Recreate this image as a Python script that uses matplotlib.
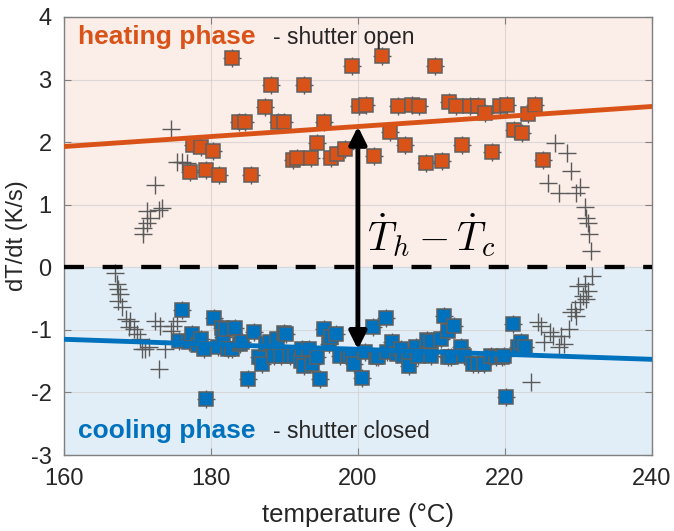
import matplotlib
matplotlib.use("Agg")
import matplotlib.pyplot as plt
import numpy as np

plt.rcParams['font.family'] = ['Liberation Sans', 'DejaVu Sans']
plt.rcParams['mathtext.fontset'] = 'cm'
plt.rcParams['lines.scale_dashes'] = False
plt.rcParams['axes.unicode_minus'] = False

# Heating phase (shutter open): temperature (°C) and heating rate (K/s)
heat_T = [182.8, 177.5, 178.6, 180.3, 177.2, 179.3, 181.1, 185.5, 183.8, 184.7,
          187.4, 188.2, 189.1, 190.0, 192.6, 191.1, 191.7, 193.6, 194.5, 195.4,
          196.3, 197.2, 198.2, 199.2, 200.2, 201.1, 202.2, 203.3, 204.4, 205.4,
          206.4, 207.3, 208.3, 209.3, 210.5, 211.4, 212.4, 213.3, 214.2, 215.2,
          216.3, 217.3, 218.3, 219.3, 220.3, 221.2, 222.3, 223.1, 224.1, 225.2]
heat_rate = [3.35, 1.96, 1.93, 1.86, 1.53, 1.55, 1.48, 1.48, 2.33, 2.32,
             2.56, 2.91, 2.32, 2.32, 2.91, 1.72, 1.75, 1.74, 1.98, 2.32,
             1.74, 1.81, 1.89, 3.22, 2.58, 2.60, 1.78, 3.37, 2.17, 2.58,
             1.95, 2.60, 2.58, 1.67, 3.22, 1.70, 2.64, 2.58, 1.95, 2.58,
             2.58, 2.46, 1.84, 2.58, 2.59, 2.19, 2.14, 2.45, 2.59, 1.71]

# Cooling phase (shutter closed)
cool_T = [175.6, 176.1, 177.0, 177.4, 178.3, 178.6, 179.0, 179.3, 180.4, 181.0,
          181.5, 181.7, 182.0, 182.3, 182.9, 183.3, 184.0, 184.2, 185.1, 185.8,
          186.5, 187.0, 187.5, 188.1, 188.6, 189.0, 189.5, 190.0, 190.2, 190.8,
          191.5, 192.2, 192.4, 192.6, 193.3, 193.8, 194.5, 194.8, 195.4, 196.1,
          196.4, 197.0, 197.6, 198.6, 199.1, 199.5, 200.5, 201.0, 202.1, 202.4,
          202.7, 203.8, 203.9, 204.7, 205.3, 205.8, 206.2, 207.0, 207.0, 207.9,
          208.2, 209.4, 209.9, 210.0, 211.3, 211.7, 212.2, 212.3, 212.7, 213.1,
          214.0, 214.5, 215.6, 216.4, 217.2, 218.1, 218.8, 219.6, 219.9, 220.2,
          221.1, 221.8, 222.2, 222.8]
cool_rate = [-1.18, -0.68, -1.20, -1.07, -1.24, -1.15, -1.31, -2.10, -0.81, -1.28,
             -0.97, -1.12, -0.99, -1.30, -1.31, -0.97, -1.22, -1.20, -1.79, -1.04,
             -1.44, -1.55, -1.22, -1.20, -1.41, -1.15, -1.41, -1.05, -1.07, -1.41,
             -1.41, -1.49, -1.31, -1.57, -1.31, -1.55, -1.44, -1.78, -0.99, -1.23,
             -1.11, -1.07, -1.41, -1.41, -1.41, -1.55, -1.77, -1.35, -0.95, -1.43,
             -1.44, -0.81, -1.35, -1.20, -1.38, -1.31, -1.41, -1.44, -1.57, -1.28,
             -1.41, -1.16, -1.18, -1.41, -1.15, -0.78, -1.02, -1.43, -1.44, -0.94,
             -1.28, -1.41, -1.55, -1.54, -1.55, -1.41, -1.43, -1.43, -1.41, -2.07,
             -0.90, -1.28, -1.20, -1.27]

# Transient samples outside the steady phases (start/end of each cycle)
trans_heat_T = [174.5, 175.4, 176.1, 176.7, 172.4, 173.3, 172.9, 171.3, 171.7, 171.3,
                170.8, 170.8, 226.8, 228.4, 229.0, 225.9, 227.4, 229.7, 230.3, 230.9,
                231.1, 231.3, 231.5, 231.7]
trans_heat_rate = [2.21, 1.68, 1.68, 1.67, 1.31, 0.95, 0.92, 0.90, 0.79, 0.71,
                   0.63, 0.53, 1.99, 1.83, 1.54, 1.35, 1.19, 1.19, 1.29, 0.97,
                   0.79, 0.71, 0.53, 0.26]
trans_cool_T = [167.0, 167.2, 167.4, 167.6, 167.3, 167.9, 168.5, 169.0, 169.5, 168.8,
                172.4, 173.1, 174.9, 175.4, 170.6, 171.0, 171.5, 173.8, 172.9, 170.4,
                169.9, 174.5, 231.8, 230.9, 230.0, 231.3, 230.6, 231.1, 230.2, 229.5,
                229.0, 229.7, 224.5, 224.9, 226.1, 226.5, 227.7, 228.8, 225.4, 227.4,
                228.1, 223.5]
trans_cool_rate = [-0.09, -0.27, -0.35, -0.43, -0.54, -0.64, -0.83, -0.86, -0.99, -0.96,
                   -0.86, -0.94, -0.94, -0.86, -1.31, -1.31, -1.28, -1.31, -1.62, -1.15,
                   -1.07, -1.02, -0.14, -0.27, -0.30, -0.38, -0.46, -0.51, -0.56, -0.67,
                   -0.72, -0.78, -0.88, -0.94, -1.04, -1.10, -1.10, -0.99, -1.20, -1.28,
                   -1.23, -1.83]

# Linear trends (slope, intercept) of the heating and cooling rates
heat_fit = [0.008, 0.65]
cool_fit = [-0.004, -0.51]

x_ticks = [160, 180, 200, 220, 240]
y_ticks = [-3, -2, -1, 0, 1, 2, 3, 4]

ORANGE = '#D95319'
BLUE = '#0072BD'
EDGE = '#5f5f5f'
TXT = '#262626'

fig = plt.figure(figsize=(6.74, 5.31), dpi=100)
ax = fig.add_axes([0.095, 0.143, 0.872, 0.825])
ax.set_xlim(160, 240)
ax.set_ylim(-3, 4)

ax.axhspan(0, 4, color='#FBEDE7', zorder=0)
ax.axhspan(-3, 0, color='#E2EEF7', zorder=0)
ax.grid(True, color='#cfcfcf', lw=0.8, alpha=0.7, zorder=0.5)
ax.set_axisbelow(True)

# every sample as a cross, steady-phase samples as squares on top
all_T = trans_heat_T + trans_cool_T + heat_T + cool_T
all_rate = trans_heat_rate + trans_cool_rate + heat_rate + cool_rate
ax.plot(all_T, all_rate, ls='none', marker='+', ms=12.5, mew=1.0, color='#5a5a5a', zorder=2)

ax.plot(heat_T, heat_rate, ls='none', marker='s', ms=9.5, mfc=ORANGE, mec=EDGE, mew=1.1, zorder=3)
ax.plot(cool_T, cool_rate, ls='none', marker='s', ms=9.5, mfc=BLUE, mec=EDGE, mew=1.1, zorder=3)

xx = np.array([160, 240])
ax.plot(xx, np.polyval(heat_fit, xx), color=ORANGE, lw=3.5, zorder=4)
ax.plot(xx, np.polyval(cool_fit, xx), color=BLUE, lw=3.5, zorder=4)

zl, = ax.plot([160, 240], [0, 0], color='black', lw=3.1, zorder=4)
zl.set_dashes([14.4, 13.4])

x_arrow = 200
ax.annotate('', xy=(x_arrow, np.polyval(heat_fit, x_arrow)),
            xytext=(x_arrow, np.polyval(cool_fit, x_arrow)),
            arrowprops=dict(arrowstyle='<|-|>', color='black', lw=3.5,
                            mutation_scale=26, shrinkA=0, shrinkB=0), zorder=5)
ax.text(201.2, 0.52, r'$\dot{T}_h - \dot{T}_c$', fontsize=29, ha='left', va='center', zorder=5)

ax.text(161.9, 3.68, 'heating phase', color=ORANGE, fontsize=19, fontweight='bold',
        ha='left', va='center', zorder=6)
ax.text(188.5, 3.68, '- shutter open', color=TXT, fontsize=16.5, ha='left', va='center', zorder=6)
ax.text(161.9, -2.62, 'cooling phase', color=BLUE, fontsize=19, fontweight='bold',
        ha='left', va='center', zorder=6)
ax.text(188.5, -2.62, '- shutter closed', color=TXT, fontsize=16.5, ha='left', va='center', zorder=6)

ax.set_xticks(x_ticks)
ax.set_yticks(y_ticks)
ax.tick_params(direction='in', length=5, width=0.8, colors='#808080', labelcolor=TXT,
               labelsize=17, top=True, right=True, pad=9)
for s in ax.spines.values():
    s.set_color('#808080')
    s.set_linewidth(1.0)
ax.set_xlabel('temperature (°C)', fontsize=18.5, color=TXT, labelpad=10)
ax.set_ylabel('dT/dt (K/s)', fontsize=17, color=TXT, labelpad=2)

fig.savefig('out.png', dpi=100)
